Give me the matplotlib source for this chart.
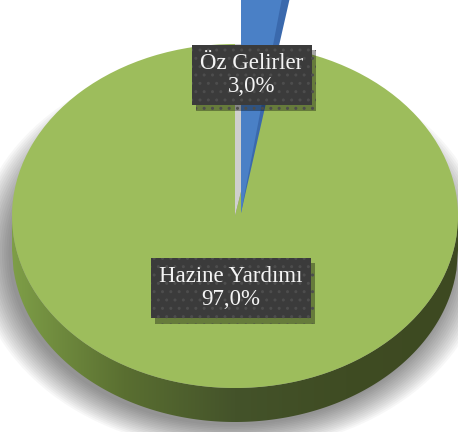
import numpy as np
import matplotlib
matplotlib.use("Agg")
import matplotlib.pyplot as plt
import matplotlib.patheffects as pe
from matplotlib.colors import LinearSegmentedColormap
from matplotlib.patches import Polygon

# ── data ─────────────────────────────────────────────────────────────
labels = ["Öz Gelirler", "Hazine Yardımı"]
values = [3.0, 97.0]
pct_text = ["3,0%", "97,0%"]

# ── colours ──────────────────────────────────────────────────────────
GREEN = "#9dbd5c"
BLUE = "#4a80c6"
BLUE_DK = "#3a69ad"
GAP = "#cfcfcf"
BOX = "#3b3b3b"

W, H = 458, 432
fig = plt.figure(figsize=(W / 100, H / 100), dpi=100)

# pie geometry in pixels (top surface ellipse)
cx, cy = 235, H - 216
rx, ry = 223, 172
depth = 34 / ry

# squashed axes: unit circle -> ellipse on screen
ax = fig.add_axes([0, 0, 1, 1])
ax.axis("off")

# soft shadow under the pie
for k in range(16):
    ax.pie([100], colors=[(0, 0, 0, 0.03)], radius=1.0 + 0.01 * k,
           center=(-0.015, -depth - 0.02), wedgeprops=dict(linewidth=0))

# side wall with left-to-right gradient
xs = np.linspace(-1, 1, 300)
upper = -np.sqrt(1 - xs ** 2)
lower = upper - depth
verts = np.vstack([np.column_stack([xs, upper]),
                   np.column_stack([xs[::-1], lower[::-1]])])
side = Polygon(verts, closed=True, facecolor="none", edgecolor="none")
ax.add_patch(side)
side_cmap = LinearSegmentedColormap.from_list(
    "side", ["#7e9e47", "#5a6f31", "#44532a", "#3f4c23", "#3d4921"])
grad = np.linspace(0, 1, 256).reshape(1, -1)
img = ax.imshow(grad, cmap=side_cmap, extent=(-1, 1, -1 - depth, 0),
                aspect="auto", zorder=2)
img.set_clip_path(side)

# top surface
ax.pie(values, colors=[GAP, GREEN], startangle=90, counterclock=False,
       radius=1.0, center=(0, 0), wedgeprops=dict(linewidth=0, zorder=3))

ax.set_aspect("auto")
ax.set_xlim(-cx / rx, (W - cx) / rx)
ax.set_ylim(-cy / ry, (H - cy) / ry)

# pixel axes for the raised blue slice and the labels
axp = fig.add_axes([0, 0, 1, 1])
axp.axis("off")
apex = (241, H - 213)
axp.pie(values, colors=[BLUE_DK, "none"], startangle=88,
        counterclock=False, radius=260, center=apex,
        wedgeprops=dict(linewidth=0))
axp.pie(values, colors=[BLUE, "none"], startangle=90,
        counterclock=False, radius=260, center=apex,
        wedgeprops=dict(linewidth=0))
axp.set_aspect("auto")
axp.set_xlim(0, W)
axp.set_ylim(0, H)

label_pos = [(252, H - 75), (231, H - 288)]
for name, pct, (lx, ly) in zip(labels, pct_text, label_pos):
    t = axp.text(lx, ly, f"{name}\n{pct}", ha="center", va="center",
                 color="#f4f4f4", fontsize=16.5, family="Liberation Serif",
                 linespacing=1.12,
                 bbox=dict(boxstyle="square,pad=0.36", facecolor=BOX,
                           edgecolor="#4d4d4d", linewidth=0, hatch=".."),
                 zorder=6)
    t.get_bbox_patch().set_path_effects([
        pe.SimplePatchShadow(offset=(3, -4), shadow_rgbFace="black",
                             alpha=0.35),
        pe.Normal()])

fig.savefig("out.png", dpi=100)
